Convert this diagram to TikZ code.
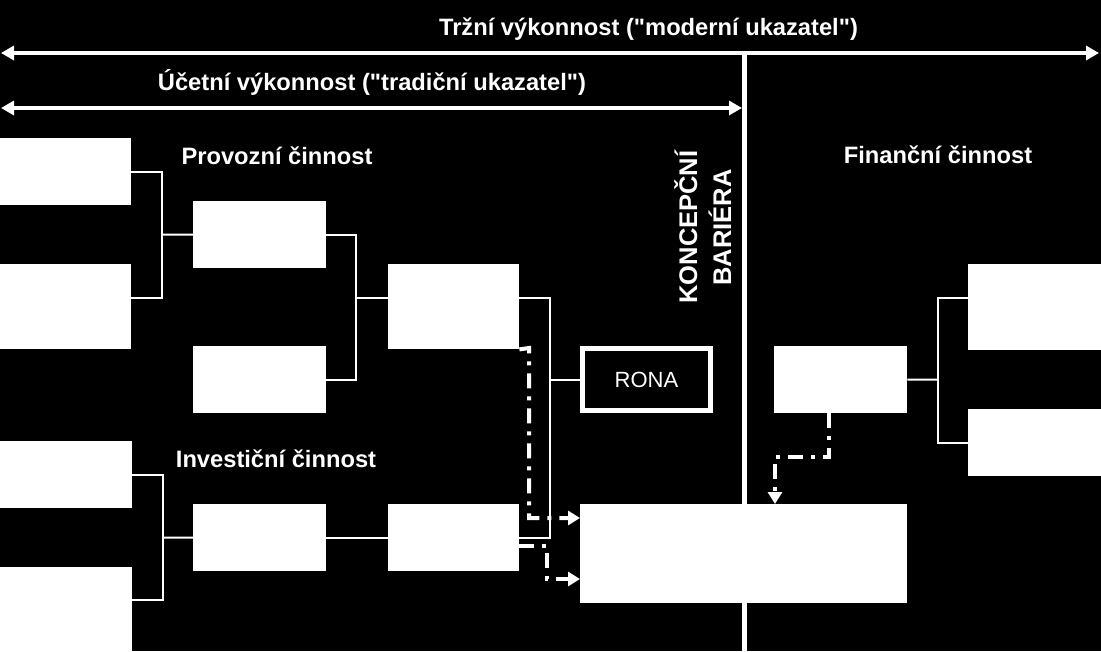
\documentclass[tikz,border=0pt]{standalone}
\usepackage{fontspec}
\setmainfont{Liberation Sans}[Ligatures=TeXOff]
\usetikzlibrary{arrows.meta}
\begin{document}
\begin{tikzpicture}[x=1pt,y=-1pt,
  box/.style={fill=white,draw=none,inner sep=0pt,anchor=north west},
  conn/.style={draw=white,line width=2pt},
  dd/.style={draw=white,line width=4pt,dash pattern=on 15pt off 8pt on 4pt off 8pt,
    -{Triangle[length=12pt,width=14pt]}},
  lbl/.style={text=white,font=\bfseries\fontsize{23.7}{28}\selectfont,inner sep=0pt,anchor=base},
  vlbl/.style={text=white,font=\bfseries\fontsize{25.5}{30}\selectfont,inner sep=0pt,anchor=base,rotate=90},
  big/.style={draw=white,line width=4.3pt,{Triangle[length=13pt,width=14pt]}-{Triangle[length=13pt,width=14pt]}}
]
\fill[black] (0,0) rectangle (1101,651);
\useasboundingbox (0,0) rectangle (1101,651);

% boxes
\node[box,minimum width=131pt,minimum height=67pt] (A1) at (0,138) {};
\node[box,minimum width=131pt,minimum height=85pt] (A2) at (0,264) {};
\node[box,minimum width=133pt,minimum height=67pt] (B1) at (193,201) {};
\node[box,minimum width=133pt,minimum height=67pt] (B2) at (193,346) {};
\node[box,minimum width=131pt,minimum height=85pt] (C1) at (388,264) {};
\node[box,minimum width=132pt,minimum height=67pt] (A3) at (0,441) {};
\node[box,minimum width=132pt,minimum height=84pt] (A4) at (0,567) {};
\node[box,minimum width=133pt,minimum height=67pt] (B3) at (193,504) {};
\node[box,minimum width=131pt,minimum height=67pt] (C2) at (388,504) {};
\node[draw=white,line width=5pt,fill=black,inner sep=0pt,minimum width=128pt,minimum height=62pt,
  text=white,font=\fontsize{22}{26}\selectfont] (R) at (646.5,379.5) {RONA};
\node[box,minimum width=327pt,minimum height=99pt] (D) at (580,504) {};
\node[box,minimum width=133pt,minimum height=67pt] (E) at (774,346) {};
\node[box,minimum width=133pt,minimum height=86pt] (F1) at (968,264) {};
\node[box,minimum width=133pt,minimum height=67pt] (F2) at (968,409) {};

% junctions
\coordinate (j1) at (162,234.5);
\coordinate (j2) at (356,298);
\coordinate (j3) at (550,379.5);
\coordinate (j4) at (163,537.5);
\coordinate (j5) at (938,379.5);

% connectors
\draw[conn] (A1.east |- 0,172) -| (j1) |- (A2.east |- 0,298);
\draw[conn] (j1) -- (B1.west);
\draw[conn] (B1.east) -| (j2) |- (B2.east);
\draw[conn] (j2) -- (C1.west |- j2);
\draw[conn] (C1.east |- 0,298) -| (j3) |- (C2.east);
\draw[conn] (j3) -- (R.west);
\draw[conn] (A3.east) -| (j4) |- (A4.east |- 0,600);
\draw[conn] (j4) -- (B3.west);
\draw[conn] (B3.east) -- (C2.west);
\draw[conn] (E.east) -- (j5);
\draw[conn] (F1.west |- 0,298) -| (j5) |- (F2.west);

% dash-dot arrows
\draw[dd] (C1.south east) -- (529,348) |- (D.west |- 0,518);
\draw[dd] (C2.east |- 0,546) -| (547,579) -- (D.west |- 0,579);
\draw[dd] (E.south -| 829,0) |- (775,457) -- (D.north -| 775,0);

% top arrows and barrier
\coordinate (tl) at (1,53);
\coordinate (tr) at (1099,53);
\coordinate (ml) at (1,108);
\coordinate (mr) at (742,108);
\coordinate (bt) at (744.5,51);
\coordinate (bb) at (744.5,651);
\draw[draw=white,line width=5pt] (bt) -- (bb);
\draw[big] (tl) -- (tr);
\draw[big] (ml) -- (mr);

% labels
\node[lbl] (t1) at (648.5,35) {Tržní výkonnost ("moderní ukazatel")};
\node[lbl] (t2) at (372,90) {Účetní výkonnost ("tradiční ukazatel")};
\node[lbl] (t3) at (277,164) {Provozní činnost};
\node[lbl] (t4) at (276,467) {Investiční činnost};
\node[lbl] (t5) at (938,163) {Finanční činnost};
\node[vlbl] (t6) at (697,227) {KONCEPČNÍ};
\node[vlbl] (t7) at (731,227.5) {BARIÉRA};
\end{tikzpicture}
\end{document}
